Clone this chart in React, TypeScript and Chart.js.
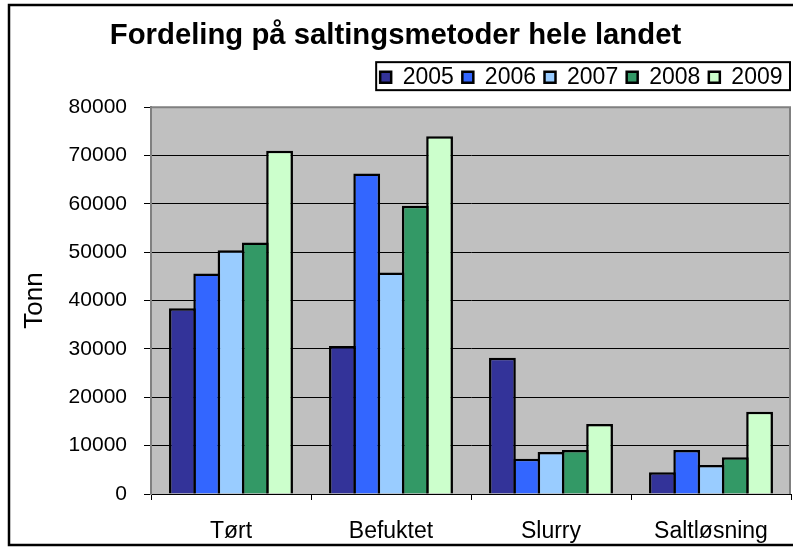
import React, { useEffect, useRef } from 'react';
import { Chart, registerables } from 'chart.js';

Chart.register(...registerables);

const CATEGORIES = ['Tørt', 'Befuktet', 'Slurry', 'Saltløsning'];
const SERIES_LABELS = ['2005', '2006', '2007', '2008', '2009'];
const V2005 = [38400, 30600, 28200, 4500];
const V2006 = [45600, 66300, 7300, 9100];
const V2007 = [50400, 45800, 8700, 6000];
const V2008 = [52000, 59600, 9100, 7600];
const V2009 = [71000, 74000, 14500, 17000];
const SERIES_VALUES = [V2005, V2006, V2007, V2008, V2009];
const COLORS = ['#333399', '#3366FF', '#99CCFF', '#339966', '#CCFFCC'];
const TITLE = 'Fordeling på saltingsmetoder hele landet';
const Y_TITLE = 'Tonn';
const Y_MIN = 0;
const Y_MAX = 80000;
const Y_STEP = 10000;

const FONT = "'Liberation Sans', Arial, Helvetica, sans-serif";

const framePlugin = {
  id: 'excelFrame',
  beforeDraw(chart: any) {
    const { ctx, chartArea: a } = chart;
    ctx.save();
    ctx.fillStyle = '#C0C0C0';
    ctx.fillRect(a.left, a.top, a.right - a.left, a.bottom - a.top);
    ctx.restore();
  },
  beforeDatasetsDraw(chart: any) {
    const { ctx, chartArea: a } = chart;
    ctx.save();
    ctx.strokeStyle = '#808080';
    ctx.lineWidth = 2;
    ctx.beginPath();
    ctx.moveTo(a.left, a.top);
    ctx.lineTo(a.right - 1, a.top);
    ctx.lineTo(a.right - 1, a.bottom);
    ctx.stroke();
    ctx.restore();
  },
  afterDraw(chart: any) {
    const { ctx } = chart;
    const lg = chart.legend;
    ctx.save();
    if (lg && lg.lineWidths) {
      const w = lg.lineWidths[0];
      const x0 = lg.right - w - 4;
      const y0 = lg.top + 5;
      ctx.strokeStyle = '#000';
      ctx.lineWidth = 2;
      ctx.strokeRect(x0, y0, lg.right - x0 - 1, 28);
    }
    ctx.strokeStyle = '#000';
    ctx.lineWidth = 2.5;
    ctx.strokeRect(9, 5, 800, 540);
    ctx.restore();
  },
};

export default function App() {
  const ref = useRef<HTMLCanvasElement | null>(null);

  useEffect(() => {
    if (!ref.current) return;
    Chart.defaults.font.family = FONT;
    Chart.defaults.color = '#000';
    const chart = new Chart(ref.current, {
      type: 'bar',
      data: {
        labels: CATEGORIES,
        datasets: SERIES_LABELS.map((label, i) => ({
          label,
          data: SERIES_VALUES[i],
          backgroundColor: COLORS[i],
          borderColor: '#000',
          borderWidth: 2.5,
          categoryPercentage: 0.759,
          barPercentage: 1.103,
        })),
      },
      options: {
        responsive: false,
        animation: false,
        events: [],
        layout: { padding: { top: 5, left: 0, right: 2, bottom: 0 } },
        plugins: {
          tooltip: { enabled: false },
          title: {
            display: true,
            text: TITLE,
            color: '#000',
            font: { family: FONT, size: 29.3, weight: 'bold' },
            padding: { top: 13, bottom: 4 },
          },
          subtitle: {
            display: true,
            text: ' ',
            weight: 500,
            font: { family: FONT, size: 8.5, lineHeight: 1 },
            padding: 0,
          },
          legend: {
            display: true,
            position: 'top',
            align: 'end',
            labels: {
              color: '#000',
              font: { family: FONT, size: 23 },
              boxWidth: 11,
              boxHeight: 11,
              padding: 8.5,
            },
          },
        },
        scales: {
          x: {
            offset: true,
            grid: {
              display: true,
              drawOnChartArea: false,
              drawTicks: true,
              tickLength: 6,
              color: '#000',
              offset: true,
            },
            border: { display: true, color: '#000', width: 1 },
            ticks: { font: { family: FONT, size: 23 }, color: '#000', padding: 18, maxRotation: 0 },
            afterFit: (s: any) => {
              s.height = 53;
            },
          },
          y: {
            min: Y_MIN,
            max: Y_MAX,
            grid: { color: '#000', lineWidth: 1, tickLength: 7, drawTicks: true },
            border: { display: true, color: '#808080', width: 2 },
            ticks: {
              stepSize: Y_STEP,
              font: { family: FONT, size: 21 },
              color: '#000',
              padding: 17,
              callback: (v: any) => String(v),
            },
            title: {
              display: true,
              text: Y_TITLE,
              color: '#000',
              font: { family: FONT, size: 26 },
              padding: { top: 19, bottom: 0 },
            },
            afterFit: (s: any) => {
              s.width = 151;
              s.paddingTop = 107;
            },
          },
        },
      },
      plugins: [framePlugin],
    } as any);
    return () => chart.destroy();
  }, []);

  return (
    <div style={{ position: 'absolute', left: 0, top: 0, width: 793, height: 547, background: '#fff' }}>
      <canvas ref={ref} width={793} height={547} style={{ display: 'block', width: 793, height: 547 }} />
    </div>
  );
}
